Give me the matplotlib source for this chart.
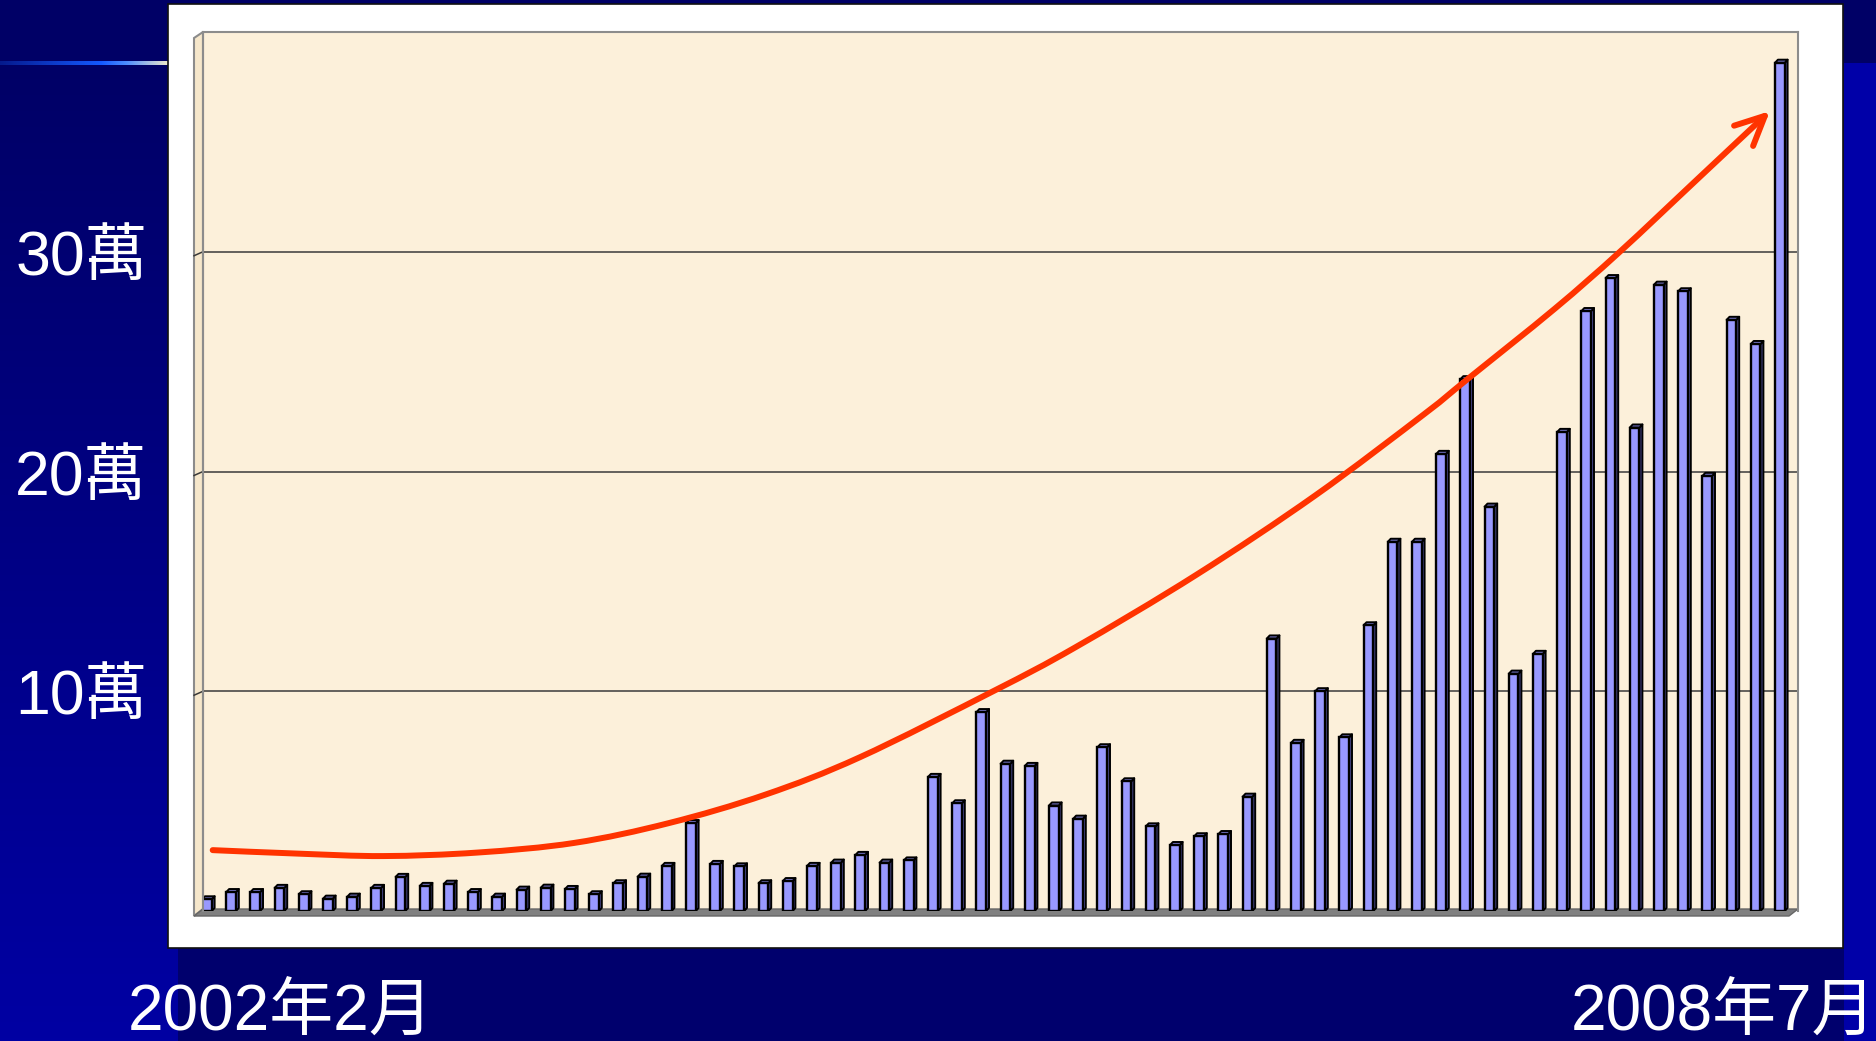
import numpy as np
import matplotlib.pyplot as plt
from matplotlib.patches import Polygon, Rectangle, FancyArrowPatch
from matplotlib.collections import PolyCollection
from matplotlib.path import Path

W, H = 1876, 1041

# monthly counts in 萬, 2002年2月 ... 2008年7月 (as drawn)
values = [0.53, 0.86, 0.86, 1.05, 0.76, 0.56, 0.65, 1.05, 1.55, 1.14,
          1.24, 0.86, 0.65, 0.97, 1.06, 1.0, 0.76, 1.26, 1.56, 2.05,
          4.0, 2.14, 2.03, 1.26, 1.36, 2.05, 2.2, 2.55, 2.2, 2.3,
          6.1, 4.9, 9.05, 6.7, 6.6, 4.8, 4.2, 7.45, 5.9, 3.85,
          3.0, 3.4, 3.5, 5.2, 12.4, 7.65, 10.0, 7.9, 13.0, 16.8,
          16.8, 20.8, 24.2, 18.4, 10.8, 11.7, 21.8, 27.3, 28.8, 22.0,
          28.5, 28.2, 19.8, 26.9, 25.8, 38.6]

# hand-drawn trend arrow (bar index, 萬)
trend_x = [0.15, 3.7, 7.2, 11.1, 15.1, 19.0, 23.0, 26.9, 32.4,
           35.8, 40.8, 45.7, 50.2, 52.0, 55.6, 58.3, 61.5, 64.5]
trend_y = [2.77, 2.61, 2.5, 2.66, 3.1, 4.0, 5.3, 7.0, 10.0,
           12.0, 15.3, 18.9, 22.6, 24.2, 27.4, 30.0, 33.3, 36.4]

y_ticks = [10, 20, 30]
y_labels = ['10萬', '20萬', '30萬']
start_label = '2002年2月'
end_label = '2008年7月'

plt.rcParams['font.family'] = ['Liberation Sans', 'Noto Sans CJK TC']


def fx(x):
    return x / W


def fy(y):
    return 1 - y / H


def px(pts):
    return [(fx(a), fy(b)) for a, b in pts]


fig = plt.figure(figsize=(W / 100, H / 100), dpi=100)
fig.patch.set_facecolor('#000066')

# slide background
bg = fig.add_axes([0, 0, 1, 1], zorder=-2)
bg.axis('off')
img = np.zeros((H, W, 3))
img[:, :, 2] = 0.40
rows = np.arange(H)
grad = np.clip((rows - 63) / (H - 63), 0, 1)
img[:, :178, 2] = (0.40 + 0.24 * grad)[:, None]
img[63:, 1843:, 2] = 0.66
img[948:, 178:1843, 2] = 0.43
t = np.arange(169) / 168
line_col = np.stack([
    np.interp(t, [0, 0.6, 0.75, 1], [0.02, 0.08, 0.3, 0.95]),
    np.interp(t, [0, 0.6, 0.75, 1], [0.1, 0.35, 0.55, 0.92]),
    np.interp(t, [0, 0.6, 0.75, 1], [0.55, 1.0, 1.0, 0.8]),
], axis=1)
img[61:65, :169, :] = line_col[None, :, :]
bg.imshow(img, extent=[0, 1, 0, 1], aspect='auto', interpolation='nearest')

# white chart panel
fig.add_artist(Rectangle((fx(168), fy(948)), (1843 - 168) / W, (948 - 4) / H,
                         transform=fig.transFigure, facecolor='white',
                         edgecolor='#111111', linewidth=1.2, zorder=-1))

ax = fig.add_axes([fx(203), fy(911), (1798 - 203) / W, (911 - 32) / H])
ax.set_facecolor('#fcf0da')
n = len(values)
x = np.arange(n)
ax.set_xlim(-0.25, 65.66)
ax.set_ylim(0, 40)

# left wall and floor of the 3-D chart
ax.add_patch(Polygon(px([(194, 38), (203, 32), (203, 909), (194, 916)]),
                     closed=True, transform=fig.transFigure, clip_on=False,
                     facecolor='#f6e7cb', edgecolor='#8c8c8c', linewidth=1.5, zorder=0.4))
ax.add_patch(Polygon(px([(194, 916), (203, 909), (1798, 909), (1789, 916)]),
                     closed=True, transform=fig.transFigure, clip_on=False,
                     facecolor='#808080', edgecolor='#666666', linewidth=1, zorder=0.6))

ax.set_yticks(y_ticks)
ax.set_yticklabels(y_labels)
ax.set_xticks([])
ax.tick_params(axis='y', length=0, pad=40, labelsize=45, labelcolor='white')
ax.yaxis.grid(True, color='#3a3a3a', linewidth=1.1)
ax.set_axisbelow(True)
for t_ in y_ticks:
    ax.plot([-0.25 - 9 / 24.2, -0.25], [t_ - 4 / 22, t_], color='#3a3a3a',
            linewidth=1.1, clip_on=False, zorder=0.5)
for side in ['top', 'right', 'left']:
    ax.spines[side].set_color('#8c8c8c')
    ax.spines[side].set_linewidth(1.5)
ax.spines['bottom'].set_visible(False)

# 3-D bars: side and top faces, then the front
dx, dh = 0.12, 0.14
sides = [[(i + 0.11, 0), (i + 0.11 + dx, dh), (i + 0.11 + dx, v + dh), (i + 0.11, v)]
         for i, v in zip(x, values)]
tops = [[(i - 0.29, v), (i + 0.11, v), (i + 0.11 + dx, v + dh), (i - 0.29 + dx, v + dh)]
        for i, v in zip(x, values)]
ax.add_collection(PolyCollection(sides, facecolors='#50509a', edgecolors='black',
                                 linewidths=1.4, zorder=2))
ax.add_collection(PolyCollection(tops, facecolors='#7777cc', edgecolors='black',
                                 linewidths=1.4, zorder=2))
ax.bar(x - 0.09, values, width=0.40, color='#9999ff', edgecolor='black',
       linewidth=1.7, zorder=2.1)

# red trend arrow: smooth (Catmull-Rom) curve through the read points
pts = np.column_stack([trend_x, trend_y])
ext = np.vstack([pts[0], pts, pts[-1]])
verts = [tuple(pts[0])]
codes = [Path.MOVETO]
for k in range(1, len(ext) - 2):
    p0, p1, p2, p3 = ext[k - 1], ext[k], ext[k + 1], ext[k + 2]
    verts += [tuple(p1 + (p2 - p0) / 6), tuple(p2 - (p3 - p1) / 6), tuple(p2)]
    codes += [Path.CURVE4] * 3
arrow = FancyArrowPatch(path=Path(verts, codes),
                        arrowstyle='->,head_length=2.1,head_width=1.0',
                        mutation_scale=10, color='#ff3300', linewidth=4.3,
                        capstyle='round', joinstyle='round',
                        transform=ax.transData, clip_on=False, zorder=5)
ax.add_patch(arrow)

fig.text(fx(128), fy(1031), start_label, fontsize=46, color='white',
         ha='left', va='baseline')
fig.text(fx(1571), fy(1031), end_label, fontsize=46, color='white',
         ha='left', va='baseline')

fig.savefig('out.png', dpi=100, facecolor=fig.get_facecolor())
